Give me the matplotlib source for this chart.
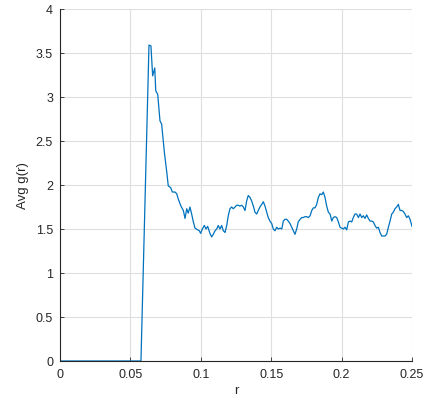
import numpy as np
import matplotlib
matplotlib.use("Agg")
from matplotlib import pyplot
from matplotlib.ticker import FuncFormatter

# radial distance and averaged pair correlation
r = [0.0, 0.0575, 0.0632, 0.0646, 0.0658, 0.0673, 0.0680, 0.0694, 0.0710, 0.0722,
     0.0734, 0.0741, 0.0758, 0.0769, 0.0786, 0.0798, 0.0817, 0.0829, 0.0840, 0.0859,
     0.0876, 0.0888, 0.0900, 0.0911, 0.0923, 0.0935, 0.0947, 0.0959, 0.0978, 0.0989,
     0.0999, 0.1011, 0.1025, 0.1037, 0.1049, 0.1065, 0.1077, 0.1089, 0.1101, 0.1113,
     0.1124, 0.1136, 0.1148, 0.1160, 0.1172, 0.1184, 0.1195, 0.1207, 0.1219, 0.1231,
     0.1243, 0.1255, 0.1266, 0.1278, 0.1290, 0.1302, 0.1314, 0.1326, 0.1337, 0.1349,
     0.1361, 0.1373, 0.1385, 0.1397, 0.1408, 0.1420, 0.1433, 0.1444, 0.1456, 0.1468,
     0.1479, 0.1491, 0.1504, 0.1515, 0.1527, 0.1539, 0.1550, 0.1563, 0.1575, 0.1586,
     0.1598, 0.1610, 0.1621, 0.1634, 0.1646, 0.1657, 0.1669, 0.1681, 0.1692, 0.1705,
     0.1717, 0.1728, 0.1740, 0.1752, 0.1763, 0.1776, 0.1788, 0.1799, 0.1811, 0.1823,
     0.1835, 0.1847, 0.1859, 0.1870, 0.1882, 0.1894, 0.1906, 0.1918, 0.1930, 0.1941,
     0.1953, 0.1965, 0.1977, 0.1989, 0.2001, 0.2012, 0.2024, 0.2036, 0.2048, 0.2060,
     0.2072, 0.2083, 0.2095, 0.2107, 0.2119, 0.2131, 0.2143, 0.2154, 0.2166, 0.2178,
     0.2190, 0.2202, 0.2214, 0.2225, 0.2237, 0.2249, 0.2261, 0.2273, 0.2285, 0.2296,
     0.2308, 0.2320, 0.2332, 0.2344, 0.2356, 0.2367, 0.2379, 0.2391, 0.2403, 0.2415,
     0.2427, 0.2438, 0.2450, 0.2462, 0.2474, 0.2486, 0.2500]
g = [0.0, 0.0, 3.59, 3.58, 3.24, 3.33, 3.07, 3.03, 2.73, 2.69,
     2.49, 2.375, 2.15, 1.99, 1.97, 1.92, 1.92, 1.90, 1.84, 1.76,
     1.71, 1.62, 1.73, 1.68, 1.75, 1.67, 1.58, 1.51, 1.49, 1.48,
     1.45, 1.50, 1.54, 1.50, 1.53, 1.45, 1.41, 1.44, 1.48, 1.50,
     1.54, 1.50, 1.54, 1.48, 1.46, 1.54, 1.65, 1.73, 1.75, 1.73,
     1.75, 1.77, 1.77, 1.76, 1.77, 1.75, 1.71, 1.82, 1.88, 1.86,
     1.82, 1.76, 1.69, 1.67, 1.71, 1.75, 1.78, 1.81, 1.76, 1.69,
     1.63, 1.59, 1.56, 1.50, 1.48, 1.52, 1.50, 1.51, 1.50, 1.59,
     1.61, 1.61, 1.59, 1.56, 1.52, 1.48, 1.44, 1.50, 1.58, 1.61,
     1.63, 1.63, 1.64, 1.64, 1.63, 1.65, 1.71, 1.74, 1.74, 1.78,
     1.86, 1.90, 1.89, 1.92, 1.86, 1.76, 1.69, 1.67, 1.59, 1.63,
     1.64, 1.63, 1.58, 1.52, 1.51, 1.50, 1.52, 1.49, 1.58, 1.59,
     1.58, 1.63, 1.67, 1.67, 1.63, 1.67, 1.63, 1.65, 1.62, 1.66,
     1.62, 1.59, 1.59, 1.58, 1.54, 1.51, 1.52, 1.46, 1.42, 1.42,
     1.42, 1.44, 1.52, 1.59, 1.67, 1.69, 1.73, 1.75, 1.78, 1.71,
     1.71, 1.70, 1.67, 1.63, 1.65, 1.61, 1.53]

x_ticks = [0, 0.05, 0.1, 0.15, 0.2, 0.25]
y_ticks = [0, 0.5, 1, 1.5, 2, 2.5, 3, 3.5, 4]

pyplot.rcParams["font.family"] = ["Liberation Sans", "DejaVu Sans"]

fig = pyplot.figure(figsize=(4.27, 4.06), dpi=100)
ax = fig.add_axes([0.1405, 0.1084, 0.8244, 0.867])

ax.plot(r, g, color="#0072BD", linewidth=0.9)

ax.set_xlim(0, 0.25)
ax.set_ylim(0, 4)
ax.set_xticks(x_ticks)
ax.set_yticks(y_ticks)
fmt = FuncFormatter(lambda v, pos: f"{v:g}")
ax.xaxis.set_major_formatter(fmt)
ax.yaxis.set_major_formatter(fmt)

ax.grid(True, color="#dfdfdf", linewidth=0.8)
ax.set_axisbelow(True)
for side in ("top", "right"):
    ax.spines[side].set_visible(False)
for side in ("left", "bottom"):
    ax.spines[side].set_color("#262626")
    ax.spines[side].set_linewidth(0.8)

ax.tick_params(direction="in", length=3, width=0.6, colors="#262626",
               labelsize=9, pad=5)
ax.set_xlabel("r", fontsize=9.5, color="#262626", labelpad=3)
ax.set_ylabel("Avg g(r)", fontsize=9.5, color="#262626", labelpad=5)

fig.savefig("out.png", dpi=100)
